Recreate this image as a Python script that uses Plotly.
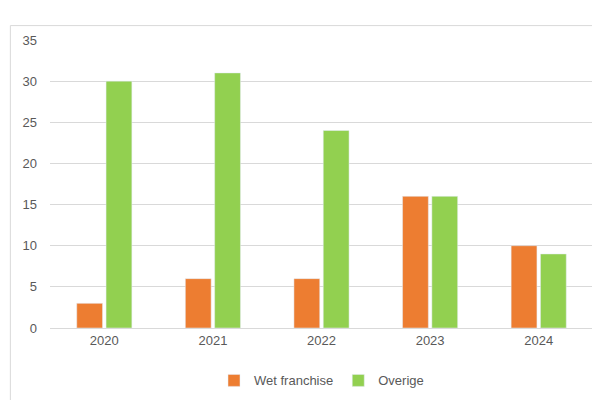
import plotly.graph_objects as go

years = ['2020', '2021', '2022', '2023', '2024']
wet_franchise = [3, 6, 6, 16, 10]
overige = [30, 31, 24, 16, 9]

fig = go.Figure()
fig.add_trace(go.Bar(x=years, y=wet_franchise, name='Wet franchise', marker_color='#ED7D31'))
fig.add_trace(go.Bar(x=years, y=overige, name='Overige', marker_color='#92D050'))

fig.update_layout(
    width=600, height=400,
    margin=dict(l=42, r=15, t=32, b=80, autoexpand=False),
    paper_bgcolor='white', plot_bgcolor='white',
    barmode='group', bargap=0.46, bargroupgap=0.12,
    font=dict(family='Liberation Sans, Arial', size=13, color='#595959'),
    showlegend=True,
    legend=dict(orientation='h', x=0.5, xanchor='center', y=-0.13, yanchor='top',
                font=dict(size=13, color='#595959')),
    xaxis=dict(showgrid=False, showline=True, linecolor='#D9D9D9', ticks=''),
    yaxis=dict(range=[0, 35], dtick=5, showgrid=True, gridcolor='#D9D9D9',
               zeroline=False, ticks='', ticklabelstandoff=12),
)
fig.add_shape(type='rect', xref='paper', yref='paper',
              x0=-0.073, x1=1.023, y0=-0.26, y1=1.05,
              line=dict(color='#D9D9D9', width=1))

fig.write_html("out.html")
